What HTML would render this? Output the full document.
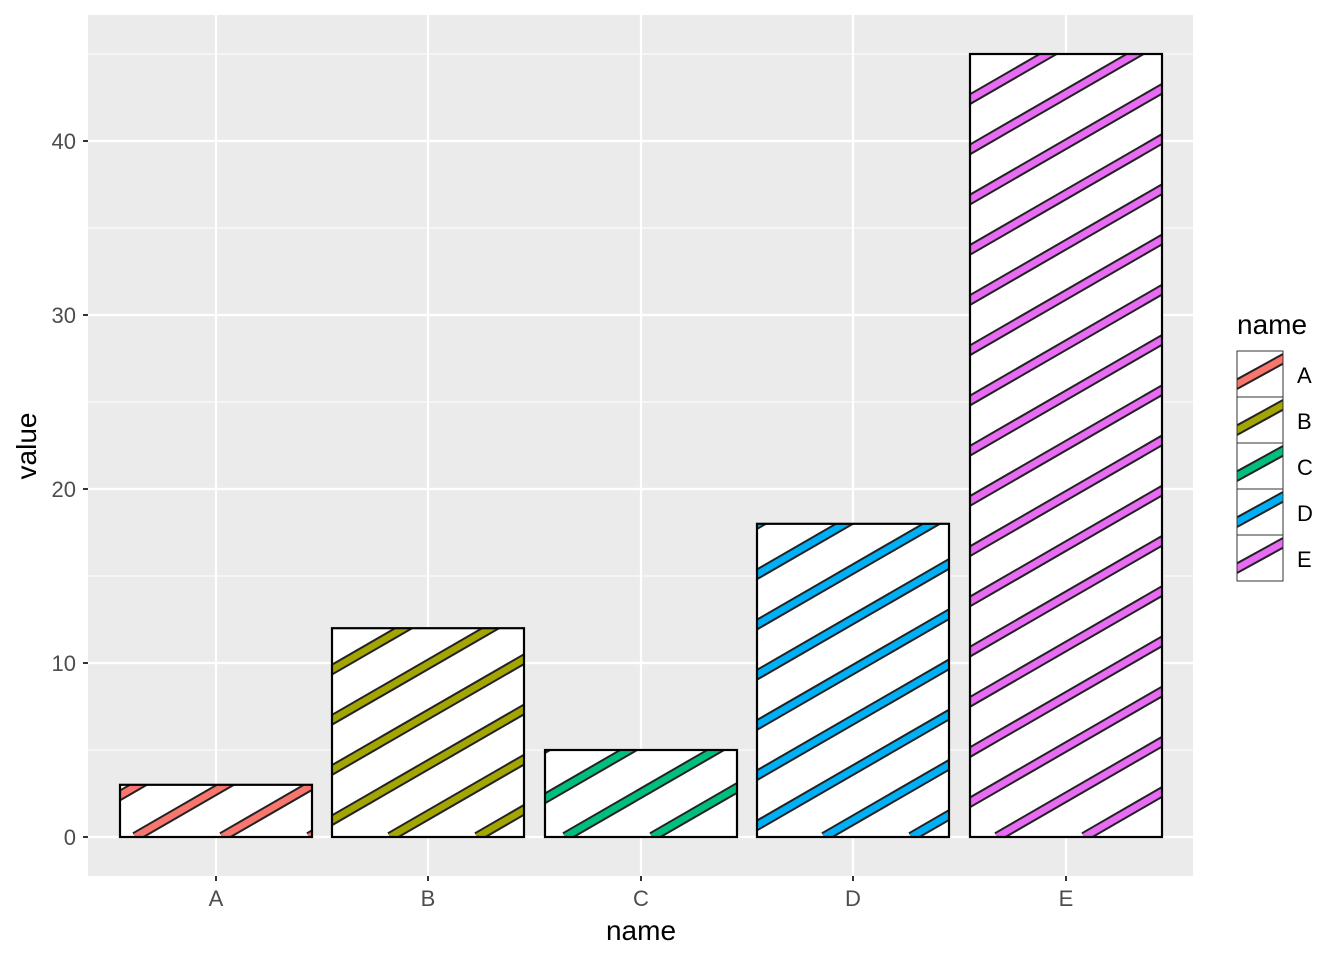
<!DOCTYPE html>
<html><head><style>body{margin:0;background:#fff}svg text{font-family:"Liberation Sans",Arial,sans-serif}</style></head>
<body>
<svg width="1344" height="960" xmlns="http://www.w3.org/2000/svg">
<rect x="88" y="15" width="1105" height="861" fill="#EBEBEB"/>
<g stroke="#fff" stroke-width="1.1">
<line x1="88" x2="1193" y1="750" y2="750"/><line x1="88" x2="1193" y1="576" y2="576"/><line x1="88" x2="1193" y1="402" y2="402"/><line x1="88" x2="1193" y1="228" y2="228"/><line x1="88" x2="1193" y1="54" y2="54"/>
</g>
<g stroke="#fff" stroke-width="2.2">
<line x1="88" x2="1193" y1="837" y2="837"/><line x1="88" x2="1193" y1="663" y2="663"/><line x1="88" x2="1193" y1="489" y2="489"/><line x1="88" x2="1193" y1="315" y2="315"/><line x1="88" x2="1193" y1="141" y2="141"/>
<line y1="15" y2="876" x1="216" x2="216"/><line y1="15" y2="876" x1="428" x2="428"/><line y1="15" y2="876" x1="641" x2="641"/><line y1="15" y2="876" x1="853" x2="853"/><line y1="15" y2="876" x1="1066" x2="1066"/>
</g>
<g id="bars"></g>
<g stroke="#333" stroke-width="2">
<line x1="83" x2="88" y1="837" y2="837"/><line x1="83" x2="88" y1="663" y2="663"/><line x1="83" x2="88" y1="489" y2="489"/><line x1="83" x2="88" y1="315" y2="315"/><line x1="83" x2="88" y1="141" y2="141"/>
<line y1="876" y2="881" x1="216" x2="216"/><line y1="876" y2="881" x1="428" x2="428"/><line y1="876" y2="881" x1="641" x2="641"/><line y1="876" y2="881" x1="853" x2="853"/><line y1="876" y2="881" x1="1066" x2="1066"/>
</g>
<g fill="#4D4D4D" font-size="22" text-anchor="end">
<text x="76" y="845">0</text><text x="76" y="671">10</text><text x="76" y="497">20</text><text x="76" y="323">30</text><text x="76" y="149">40</text>
</g>
<g fill="#4D4D4D" font-size="22" text-anchor="middle">
<text x="216" y="906">A</text><text x="428" y="906">B</text><text x="641" y="906">C</text><text x="853" y="906">D</text><text x="1066" y="906">E</text>
</g>
<text x="641" y="940" font-size="28" text-anchor="middle">name</text>
<text transform="translate(36,446) rotate(-90)" font-size="28" text-anchor="middle">value</text>
<text x="1237" y="334" font-size="28">name</text>
<g id="leg"></g>
<g font-size="22">
<text x="1297" y="383">A</text><text x="1297" y="429">B</text><text x="1297" y="475">C</text><text x="1297" y="521">D</text><text x="1297" y="567">E</text>
</g>
<script>
const NS="http://www.w3.org/2000/svg";
function el(t,a,p){const e=document.createElementNS(NS,t);for(const k in a)e.setAttribute(k,a[k]);p.appendChild(e);return e;}
const bars=[["A",120,3,15,"#F8766D"],["B",332,12,58,"#A3A500"],["C",545,5,20,"#00BF7D"],["D",757,18,67,"#00B0F6"],["E",970,45,27,"#E76BF3"]];
const g=document.getElementById("bars");const defs=el("defs",{},g);
const c=Math.cos(Math.PI/6),s=Math.sin(Math.PI/6);
bars.forEach((b,i)=>{const x=b[1],w=192,y0=837,h=b[2]*17.4,top=y0-h;
 const cp=el("clipPath",{id:"c"+i},defs);el("rect",{x:x,y:top,width:w,height:h},cp);
 el("rect",{x:x,y:top,width:w,height:h,fill:"#fff"},g);
 const gg=el("g",{"clip-path":"url(#c"+i+")"},g);
 for(let k=-25;k<5;k++){const bx=x+b[3]+k*87;const L=4000;
  const a={x1:bx,y1:y0,x2:bx+L*c,y2:y0-L*s};
  el("line",Object.assign({stroke:"#222","stroke-width":10.5},a),gg);
  el("line",Object.assign({stroke:b[4],"stroke-width":6.5},a),gg);}
 el("rect",{x:x,y:top,width:w,height:h,fill:"none",stroke:"#000","stroke-width":2.2},g);
});
const lg=document.getElementById("leg");
bars.forEach((b,i)=>{const y=351+i*46;
 const cp=el("clipPath",{id:"l"+i},defs);el("rect",{x:1237,y:y,width:46,height:46},cp);
 el("rect",{x:1237,y:y,width:46,height:46,fill:"#fff"},lg);
 const gg=el("g",{"clip-path":"url(#l"+i+")"},lg);
 const a={x1:1230,y1:y+37,x2:1290,y2:y+4};
 el("line",Object.assign({stroke:"#222","stroke-width":10.5},a),gg);
 el("line",Object.assign({stroke:b[4],"stroke-width":6.5},a),gg);
 el("rect",{x:1237,y:y,width:46,height:46,fill:"none",stroke:"#333","stroke-width":1},lg);
});
</script>
</svg>
</body></html>
